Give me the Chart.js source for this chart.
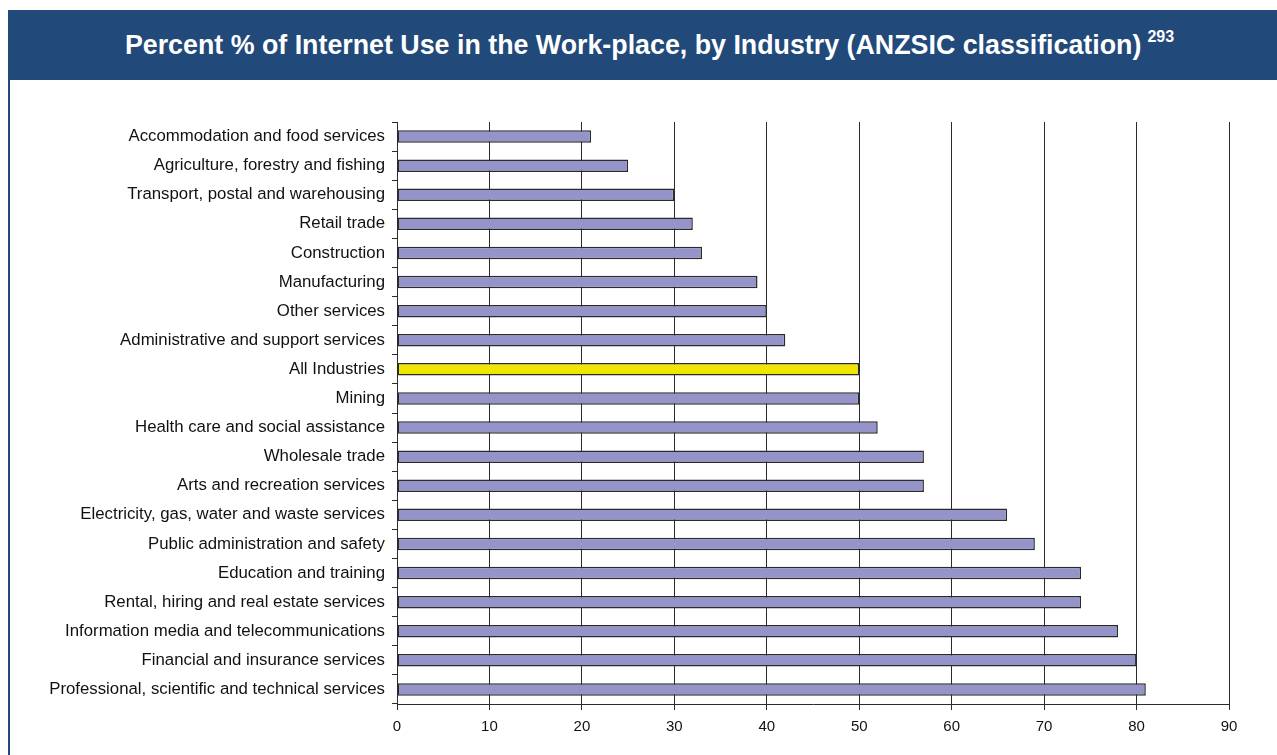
<!DOCTYPE html>
<html>
<head>
<meta charset="utf-8">
<script src="https://cdn.jsdelivr.net/npm/chart.js@4/dist/chart.umd.min.js"></script>
<style>
  html, body { margin: 0; padding: 0; background: #fff; }
  #wrap { position: relative; width: 1277px; height: 755px; overflow: hidden; }
  #header {
    position: absolute; left: 8px; top: 10px; width: 1269px; height: 70px;
    background: #21497A; color: #fff; z-index: 2;
    font-family: "Liberation Sans", Arial, sans-serif; font-weight: bold; font-size: 26.8px;
    display: flex; align-items: center; justify-content: center; box-sizing: border-box; padding-left: 14px;
  }
  #header sup { font-size: 16px; position: relative; top: -2px; margin-left: 6px; }
  #leftBorder { position: absolute; left: 8px; top: 80px; width: 2px; height: 675px; background: #21497A; z-index: 2; }
  #c { position: absolute; left: 0; top: 0; }
</style>
</head>
<body>
<div id="wrap">
  <div id="header"><span>Percent % of Internet Use in the Work-place, by Industry (ANZSIC classification)<sup>293</sup></span></div>
  <div id="leftBorder"></div>
  <canvas id="c" width="1277" height="755"></canvas>
</div>
<script>
const categories = [
  "Accommodation and food services",
  "Agriculture, forestry and fishing",
  "Transport, postal and warehousing",
  "Retail trade",
  "Construction",
  "Manufacturing",
  "Other services",
  "Administrative and support services",
  "All Industries",
  "Mining",
  "Health care and social assistance",
  "Wholesale trade",
  "Arts and recreation services",
  "Electricity, gas, water and waste services",
  "Public administration and safety",
  "Education and training",
  "Rental, hiring and real estate services",
  "Information media and telecommunications",
  "Financial and insurance services",
  "Professional, scientific and technical services"
];
const percentValues = [21, 25, 30, 32, 33, 39, 40, 42, 50, 50, 52, 57, 57, 66, 69, 74, 74, 78, 80, 81];
const highlightCategory = "All Industries";
const xTickValues = [0, 10, 20, 30, 40, 50, 60, 70, 80, 90];

const barColors = categories.map(c => c === highlightCategory ? '#F0E600' : '#9494CA');

new Chart(document.getElementById('c'), {
  type: 'bar',
  data: {
    labels: categories,
    datasets: [{
      data: percentValues,
      backgroundColor: barColors,
      borderColor: '#2b2b2b',
      borderWidth: 1.5,
      borderSkipped: false,
      barPercentage: 0.43,
      categoryPercentage: 1.0
    }]
  },
  options: {
    indexAxis: 'y',
    responsive: false,
    animation: false,
    layout: { padding: { top: 122, right: 48, left: 0, bottom: 0 } },
    plugins: { legend: { display: false }, tooltip: { enabled: false }, title: { display: false } },
    scales: {
      x: {
        min: 0, max: 90,
        afterBuildTicks: s => { s.ticks = xTickValues.map(v => ({ value: v })); },
        grid: { color: '#2b2b2b', lineWidth: 1, tickLength: 6, drawTicks: true },
        border: { color: '#2b2b2b', width: 1 },
        ticks: { color: '#111', font: { family: '"Liberation Sans", Arial, sans-serif', size: 15 }, padding: 8 },
        afterFit: s => { s.height = 51; }
      },
      y: {
        grid: { drawOnChartArea: false, drawTicks: true, tickLength: 5, color: '#2b2b2b', offset: true },
        border: { color: '#2b2b2b', width: 1 },
        ticks: { color: '#111', font: { family: '"Liberation Sans", Arial, sans-serif', size: 16.8 }, padding: 7, autoSkip: false },
        afterFit: s => { s.width = 397; }
      }
    }
  }
});
</script>
</body>
</html>
